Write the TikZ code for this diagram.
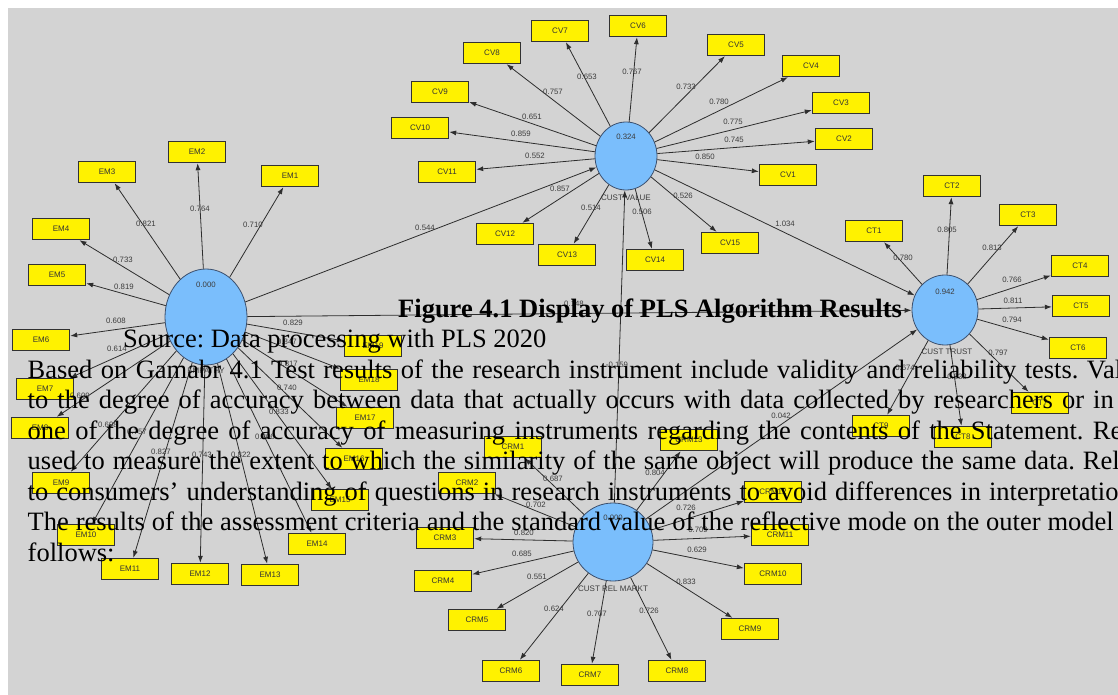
\documentclass[tikz,border=0pt]{standalone}
\usepackage{fontspec}
\setmainfont{Liberation Serif}
\setsansfont{Liberation Sans}
\usetikzlibrary{shapes.geometric,arrows.meta}
\definecolor{bggray}{RGB}{211,211,211}
\definecolor{latentblue}{RGB}{122,190,252}
\definecolor{latentedge}{RGB}{60,80,110}
\definecolor{boxedge}{RGB}{50,50,50}
\definecolor{pathgray}{RGB}{45,45,45}
\definecolor{wtgray}{RGB}{60,60,60}
\frenchspacing
\tikzset{
  latent/.style={ellipse, draw=latentedge, line width=0.8pt, fill=latentblue, inner sep=0pt},
  indicator/.style={rectangle, draw=boxedge, line width=1.4pt, fill=yellow, minimum width=57pt,
    minimum height=21pt, inner sep=0pt, font=\sffamily\fontsize{8}{8}\selectfont, text=black!80},
  loading/.style={draw=pathgray, line width=0.8pt, -{Latex[length=7pt,width=5pt]}},
  wt/.style={font=\sffamily\fontsize{7.8}{8}\selectfont, text=wtgray, inner sep=0pt},
  lvname/.style={font=\sffamily\fontsize{8}{9}\selectfont, text=wtgray, inner sep=0pt},
  bodytext/.style={anchor=base west, inner sep=0pt, font=\fontsize{26.5}{30}\selectfont},
}
\begin{document}
\begin{tikzpicture}[x=1pt,y=-1pt]
  \useasboundingbox (0,0) rectangle (1118,695);
  \fill[white] (0,0) rectangle (1118,695);
  \fill[bggray] (8,8) rectangle (1118,695);

  % latent variables
  \node[latent, minimum width=82pt, minimum height=96pt] (em) at (206,317) {};
  \node[latent, minimum width=62pt, minimum height=68pt] (cv) at (626,156) {};
  \node[latent, minimum width=66pt, minimum height=70pt] (ct) at (945,310) {};
  \node[latent, minimum width=80pt, minimum height=78pt] (crm) at (613,542) {};
  \node[wt] (vem) at (206,285) {0.000};
  \node[wt] (vcv) at (626,137) {0.324};
  \node[wt] (vct) at (945,292) {0.942};
  \node[wt] (vcrm) at (613,518) {0.000};
  \node[lvname] (nem) at (206,371) {EMPATHY};
  \node[lvname] (ncv) at (626,198) {CUST VALUE};
  \node[lvname] (nct) at (947,352) {CUST TRUST};
  \node[lvname] (ncrm) at (613,589) {CUST REL MARKT};

  % inner model
  \draw[loading] (em) -- (cv);
  \draw[loading] (em) -- (ct);
  \draw[loading] (cv) -- (ct);
  \draw[loading] (crm) -- (cv);
  \draw[loading] (crm) -- (ct);
  \node[wt] (pemcv) at (425,228) {0.544};
  \node[wt] (pemct) at (574,304) {0.148};
  \node[wt] (pcvct) at (785,224) {1.034};
  \node[wt] (pcrmcv) at (617,365) {-0.159};
  \node[wt] (pcrmct) at (781,416) {0.042};

  % CV indicators
  \foreach \n/\x/\y/\w/\lx/\ly in {1/788/175/0.850/705/157, 2/844/139/0.745/734/140,
      3/841/103/0.775/733/122, 4/811/66/0.780/719/102, 5/736/45/0.733/686/87,
      6/638/26/0.767/632/72, 7/560/31/0.653/587/77, 8/492/53/0.757/553/92,
      9/440/92/0.651/532/117, 10/420/128/0.859/521/134, 11/447/172/0.552/535/156,
      12/505/234/0.857/560/189, 13/567/255/0.514/591/208, 14/655/260/0.506/642/212,
      15/730/243/0.526/683/196} {
    \node[indicator] (cv\n) at (\x,\y) {CV\n};
    \draw[loading] (cv) -- (cv\n);
    \node[wt] (wcv\n) at (\lx,\ly) {\w};
  }

  % EM indicators
  \foreach \n/\x/\y/\w/\lx/\ly in {1/290/176/0.710/253/225, 2/197/152/0.764/200/209,
      3/107/172/0.821/146/224, 4/61/229/0.733/123/260, 5/57/275/0.819/124/287,
      6/41/340/0.608/116/321, 7/45/389/0.614/117/349, 8/40/428/0.609/80/396,
      9/61/483/0.698/108/425, 10/86/535/0.757/137/432, 11/130/569/0.827/161/452,
      12/200/574/0.743/202/455, 13/270/575/0.822/241/455, 14/317/544/0.806/265/437,
      15/340/500/0.833/279/412, 16/354/459/0.740/287/388, 17/365/418/0.817/288/364,
      18/369/380/0.847/287/342, 19/373/346/0.829/293/323} {
    \node[indicator] (em\n) at (\x,\y) {EM\n};
    \draw[loading] (em) -- (em\n);
    \node[wt] (wem\n) at (\lx,\ly) {\w};
  }

  % CT indicators
  \foreach \n/\x/\y/\w/\lx/\ly in {1/874/231/0.780/903/258, 2/952/186/0.805/947/230,
      3/1028/215/0.813/992/248, 4/1080/266/0.766/1012/280, 5/1081/306/0.811/1013/301,
      6/1078/348/0.794/1012/320, 7/1040/403/0.797/998/353, 8/963/437/0.838/957/377,
      9/881/426/0.674/905/368} {
    \node[indicator] (ct\n) at (\x,\y) {CT\n};
    \draw[loading] (ct) -- (ct\n);
    \node[wt] (wct\n) at (\lx,\ly) {\w};
  }

  % CRM indicators
  \foreach \n/\x/\y/\w/\lx/\ly in {1/513/447/0.687/553/479, 2/467/483/0.702/536/505,
      3/445/538/0.820/524/533, 4/443/581/0.685/522/554, 5/477/620/0.551/537/577,
      6/511/671/0.624/554/609, 7/590/675/0.707/597/614, 8/677/671/0.726/649/611,
      9/750/629/0.833/686/582, 10/773/574/0.629/697/550, 11/780/535/0.709/698/530,
      12/773/492/0.726/686/508, 13/689/440/0.804/655/473} {
    \node[indicator] (crm\n) at (\x,\y) {CRM\n};
    \draw[loading] (crm) -- (crm\n);
    \node[wt] (wcrm\n) at (\lx,\ly) {\w};
  }

  % page text lying over the figure (justified lines, cut at the right edge)
  \begin{scope}
    \clip (0,0) rectangle (1118,695);
    \node[bodytext] (caption) at (398,317) {\textbf{Figure 4.1 Display of PLS Algorithm Results}};
    \node[bodytext] (source) at (123,347.5) {Source: Data processing with PLS 2020};
    \node[bodytext] (line1) at (27.5,378) {\hbox to 1143pt{Based on Gamabr 4.1 Test results of the research instrument include validity and reliability tests. Validity}};
    \node[bodytext] (line2) at (27.5,408.5) {\hbox to 1086pt{to the degree of accuracy between data that actually occurs with data collected by researchers or in}};
    \node[bodytext] (line3) at (27.5,439) {\hbox to 1177pt{one of the degree of accuracy of measuring instruments regarding the contents of the Statement. Reliability}};
    \node[bodytext] (line4) at (27.5,469.5) {\hbox to 1167pt{used to measure the extent to which the similarity of the same object will produce the same data. Reliability}};
    \node[bodytext] (line5) at (27.5,500) {\hbox to 1104pt{to consumers' understanding of questions in research instruments to avoid differences in interpretation}};
    \node[bodytext] (line6) at (27.5,530.5) {\hbox to 1086pt{The results of the assessment criteria and the standard value of the reflective mode on the outer model}};
    \node[bodytext] (line7) at (27.5,561) {follows:};
  \end{scope}
\end{tikzpicture}
\end{document}
